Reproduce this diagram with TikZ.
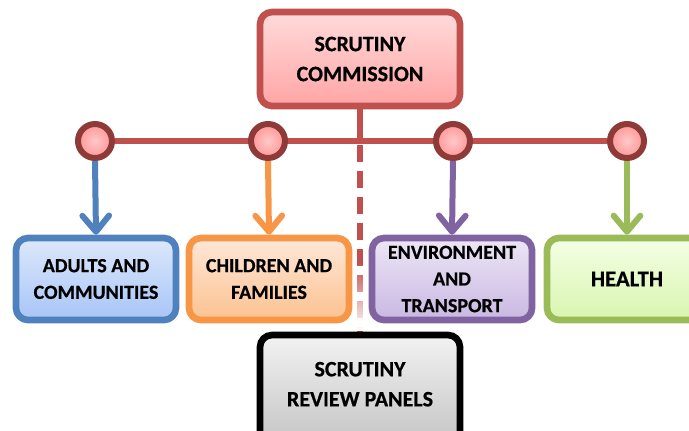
\documentclass[tikz,border=0pt]{standalone}
\usepackage{fontspec}
\setmainfont{Carlito}[BoldFeatures={FakeBold=0.6}]
\usetikzlibrary{arrows.meta,fadings,backgrounds}
\definecolor{cred}{HTML}{C0504D}
\definecolor{cdred}{HTML}{8E3A38}
\definecolor{cblue}{HTML}{4F81BD}
\definecolor{corange}{HTML}{F79646}
\definecolor{cpurple}{HTML}{8064A2}
\definecolor{cgreen}{HTML}{9BBB59}
\tikzset{
  box/.style={rectangle, rounded corners=9pt, line width=5pt, align=center,
    font=\fontsize{15}{20}\selectfont\bfseries, minimum width=120pt, minimum height=61.5pt, inner sep=0pt},
  bigbox/.style={box, minimum width=150pt, minimum height=70.5pt, font=\fontsize{16.5}{22.5}\selectfont\bfseries},
  dot/.style={circle, line width=4.5pt, draw=cdred, inner color={rgb,255:red,255;green,200;blue,200}, outer color={rgb,255:red,255;green,150;blue,150}, minimum size=25.5pt, inner sep=0pt},
  redline/.style={draw=cred, line width=5pt},
  arr/.style={line width=4.5pt, -{Straight Barb[length=12pt,width=20pt,round]}},
}
\begin{document}
\begin{tikzpicture}[x=0.75pt,y=-0.75pt]
\useasboundingbox (0,0) rectangle (689,430);
\clip (0,0) rectangle (689,430);
% boxes
\node[bigbox, draw=cred, top color={rgb,255:red,255;green,218;blue,218}, bottom color={rgb,255:red,255;green,165;blue,165}] (comm) at (360,59) {SCRUTINY\\COMMISSION};
\node[box, draw=cblue, top color={rgb,255:red,221;green,232;blue,251}, bottom color={rgb,255:red,167;green,197;blue,247}] (adults) at (96,279) {ADULTS AND\\COMMUNITIES};
\node[box, draw=corange, top color={rgb,255:red,254;green,231;blue,216}, bottom color={rgb,255:red,252;green,194;blue,144}] (children) at (269,279) {CHILDREN AND\\FAMILIES};
\node[box, draw=cpurple, top color={rgb,255:red,237;green,230;blue,246}, bottom color={rgb,255:red,201;green,184;blue,226}] (env) at (452,279) {ENVIRONMENT\\AND\\TRANSPORT};
\node[box, draw=cgreen, font=\fontsize{17}{20}\selectfont\bfseries, top color={rgb,255:red,244;green,255;blue,228}, bottom color={rgb,255:red,217;green,245;blue,176}] (health) at (627,279) {HEALTH};
\node[bigbox, draw=black, minimum height=82.5pt, top color={rgb,255:red,242;green,242;blue,242}, bottom color={rgb,255:red,196;green,196;blue,196}] (panels) at (360,390) {\raisebox{3.5pt}[\height][\depth]{\begin{tabular}{@{}c@{}}SCRUTINY\\REVIEW PANELS\end{tabular}}};
% circles
\node[dot] (c1) at (95,141) {};
\node[dot] (c2) at (268,141) {};
\node[dot] (c3) at (453,141) {};
\node[dot] (c4) at (627,141) {};
\coordinate (j) at (360,141);
\begin{scope}[on background layer]
  \draw[redline] (c1) -- (c4);
  \draw[redline] (comm.south) -- (j);
  \draw[redline, dash pattern=on 12.75pt off 6.75pt, dash phase=-3pt] (j) -- (panels.north);
  \fill[white, path fading=north] (354,262) rectangle (366,331);
\end{scope}
% arrows
\draw[arr, cblue] (c1.south) -- (adults.north);
\draw[arr, corange] (c2.south) -- (children.north);
\draw[arr, cpurple] (c3.south) -- (env.north);
\draw[arr, cgreen] (c4.south) -- (health.north);
\end{tikzpicture}
\end{document}
